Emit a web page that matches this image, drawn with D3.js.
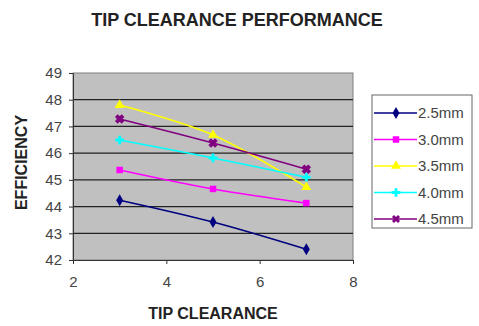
<!DOCTYPE html>
<html lang="en">
<head>
    <meta charset="UTF-8">
    <title>Tip clearance performance</title>
    <script src="https://cdn.jsdelivr.net/npm/d3@7"></script>
    <style>
        body { margin: 0; background: #fff; }
        text { font-family: "Liberation Sans", Arial, sans-serif; }
    </style>
</head>
<body>
<script>
    // data
    const clearances = [3, 5, 7];
    const seriesNames = ["2.5mm", "3.0mm", "3.5mm", "4.0mm", "4.5mm"];
    const eff25 = [44.24, 43.42, 42.4];
    const eff30 = [45.37, 44.66, 44.13];
    const eff35 = [47.8, 46.68, 44.73];
    const eff40 = [46.49, 45.82, 45.1];
    const eff45 = [47.28, 46.38, 45.4];
    const xTicks = [2, 4, 6, 8];
    const yTicks = [42, 43, 44, 45, 46, 47, 48, 49];

    const colors = ["#000080", "#ff00ff", "#ffff00", "#00ffff", "#800080"];
    const symbols = [d3.symbolDiamond, d3.symbolSquare, d3.symbolTriangle, d3.symbolCross, d3.symbolCross];

    const series = seriesNames.map((name, i) => ({
        name,
        values: [eff25, eff30, eff35, eff40, eff45][i].map((v, j) => ({x: clearances[j], y: v}))
    }));

    const width = 479, height = 326;
    const margin = {top: 73, right: 126, bottom: 66, left: 73};

    const svg = d3.select("body").append("svg")
        .attr("width", width)
        .attr("height", height);

    const x = d3.scaleLinear().domain([2, 8]).range([margin.left, width - margin.right]);
    const y = d3.scaleLinear().domain([42, 49]).range([height - margin.bottom, margin.top]);

    // plot area
    svg.append("rect")
        .attr("x", x(2)).attr("y", y(49))
        .attr("width", x(8) - x(2)).attr("height", y(42) - y(49))
        .attr("fill", "#c0c0c0")
        .attr("stroke", "#808080");

    // gridlines
    svg.append("g")
        .selectAll("line")
        .data(yTicks.slice(1, -1))
        .join("line")
        .attr("x1", x(2)).attr("x2", x(8))
        .attr("y1", d => y(d)).attr("y2", d => y(d))
        .attr("stroke", "#222").attr("stroke-width", 1.3);

    const yAxis = g => g
        .attr("transform", `translate(${x(2)},0)`)
        .call(d3.axisLeft(y).tickValues(yTicks).tickSize(4).tickFormat(d3.format("d")))
        .call(g => g.select(".domain").attr("stroke", "#333"))
        .call(g => g.selectAll(".tick line").attr("stroke", "#333"))
        .call(g => g.selectAll("text").attr("font-size", 15).attr("fill", "#444").attr("x", -11));

    const xAxis = g => g
        .attr("transform", `translate(0,${y(42)})`)
        .call(d3.axisBottom(x).tickValues(xTicks).tickSize(4).tickFormat(d3.format("d")))
        .call(g => g.select(".domain").attr("stroke", "#333"))
        .call(g => g.selectAll(".tick line").attr("stroke", "#333"))
        .call(g => g.selectAll("text").attr("font-size", 15).attr("fill", "#444").attr("y", 16));

    svg.append("g").call(yAxis);
    svg.append("g").call(xAxis);

    const line = d3.line()
        .x(d => x(d.x))
        .y(d => y(d.y))
        .curve(d3.curveCatmullRom.alpha(0.5));

    const sg = svg.append("g")
        .selectAll("g")
        .data(series)
        .join("g");

    sg.append("path")
        .attr("d", d => line(d.values))
        .attr("fill", "none")
        .attr("stroke", (d, i) => colors[i])
        .attr("stroke-width", 1.6);

    sg.each(function (d, i) {
        d3.select(this).selectAll(".pt")
            .data(d.values)
            .join("path")
            .attr("class", "pt")
            .attr("transform", p => `translate(${x(p.x)},${y(p.y)})` + (i === 4 ? " rotate(45)" : ""))
            .attr("d", d3.symbol(symbols[i], i === 4 ? 40 : 42))
            .attr("fill", colors[i])
            .attr("stroke", i === 4 ? colors[i] : "none");
    });

    // title and axis labels
    svg.append("text")
        .attr("x", 237).attr("y", 26)
        .attr("text-anchor", "middle")
        .attr("font-size", 18).attr("font-weight", "bold").attr("fill", "#222")
        .text("TIP CLEARANCE PERFORMANCE");

    svg.append("text")
        .attr("x", (x(2) + x(8)) / 2).attr("y", 319)
        .attr("text-anchor", "middle")
        .attr("font-size", 16).attr("font-weight", "bold").attr("fill", "#222")
        .text("TIP CLEARANCE");

    svg.append("text")
        .attr("transform", `translate(27,${(y(42) + y(49)) / 2 - 4}) rotate(-90)`)
        .attr("text-anchor", "middle")
        .attr("font-size", 16).attr("font-weight", "bold").attr("fill", "#222")
        .text("EFFICIENCY");

    // legend
    const legend = svg.append("g").attr("transform", "translate(372,95)");
    legend.append("rect")
        .attr("width", 100).attr("height", 133)
        .attr("fill", "#fff").attr("stroke", "#666");

    const li = legend.selectAll(".item")
        .data(series)
        .join("g")
        .attr("class", "item")
        .attr("transform", (d, i) => `translate(0,${18 + i * 26.5})`);

    li.append("line")
        .attr("x1", 2).attr("x2", 45)
        .attr("stroke", (d, i) => colors[i]).attr("stroke-width", 1.6);

    li.append("path")
        .attr("transform", (d, i) => "translate(24,0)" + (i === 4 ? " rotate(45)" : ""))
        .attr("d", (d, i) => d3.symbol(symbols[i], i === 4 ? 40 : 42)())
        .attr("fill", (d, i) => colors[i]);

    li.append("text")
        .attr("x", 46).attr("dy", "0.35em")
        .attr("font-size", 15).attr("fill", "#444")
        .text(d => d.name);
</script>
</body>
</html>
